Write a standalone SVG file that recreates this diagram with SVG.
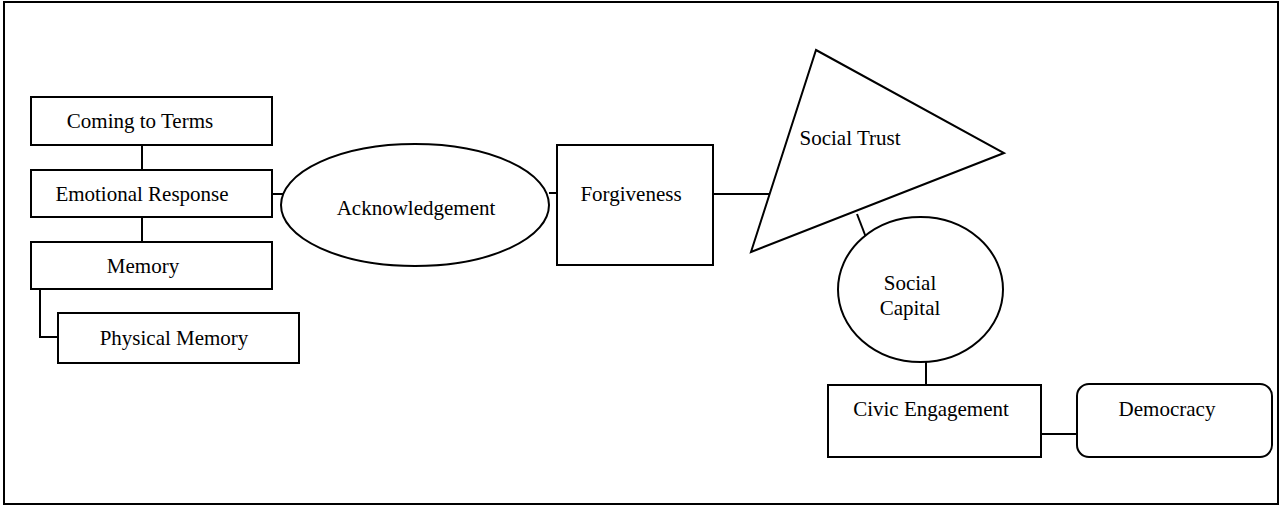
<svg xmlns="http://www.w3.org/2000/svg" width="1281" height="508" viewBox="0 0 1281 508">
<style>
.s{fill:#fff;stroke:#000;stroke-width:2}
.c{fill:none;stroke:#000;stroke-width:2}
text{font-family:"Liberation Serif","Times New Roman",serif;font-size:21px;fill:#000;text-anchor:middle}
</style>
<rect x="0" y="0" width="1281" height="508" fill="#fff"/>
<rect x="4" y="2" width="1274" height="502" class="c"/>
<g id="connectors">
<line x1="142" y1="145" x2="142" y2="170" class="c"/>
<line x1="142" y1="217" x2="142" y2="242" class="c"/>
<polyline points="40,289 40,337 58,337" class="c"/>
<line x1="272" y1="194" x2="284" y2="194" class="c"/>
<line x1="549" y1="193" x2="557" y2="193" class="c"/>
<line x1="713" y1="194" x2="769" y2="194" class="c"/>
<line x1="857" y1="214" x2="867" y2="240" class="c"/>
<line x1="926" y1="362" x2="926" y2="385" class="c"/>
<line x1="1041" y1="434" x2="1077" y2="434" class="c"/>
</g>
<g id="coming">
<rect x="31" y="97" width="241" height="48" class="s"/>
<text x="140" y="128">Coming to Terms</text>
</g>
<g id="emotional">
<rect x="31" y="170" width="241" height="47" class="s"/>
<text x="142" y="201">Emotional Response</text>
</g>
<g id="memory">
<rect x="31" y="242" width="241" height="47" class="s"/>
<text x="143" y="273">Memory</text>
</g>
<g id="physical">
<rect x="58" y="313" width="241" height="50" class="s"/>
<text x="174" y="345">Physical Memory</text>
</g>
<g id="acknowledgement">
<ellipse cx="415" cy="205" rx="134" ry="61" class="s"/>
<text x="416" y="215">Acknowledgement</text>
</g>
<g id="forgiveness">
<rect x="557" y="145" width="156" height="120" class="s"/>
<text x="631" y="201">Forgiveness</text>
</g>
<g id="trust">
<polygon points="816,50 1004,153 751,252" class="s"/>
<text x="850" y="145">Social Trust</text>
</g>
<g id="capital">
<ellipse cx="920.5" cy="289.5" rx="82.5" ry="72.5" class="s"/>
<text x="910" y="290">Social</text>
<text x="910" y="315">Capital</text>
</g>
<g id="civic">
<rect x="828" y="385" width="213" height="72" class="s"/>
<text x="931" y="416">Civic Engagement</text>
</g>
<g id="democracy">
<rect x="1077" y="384" width="195" height="73" rx="12" class="s"/>
<text x="1167" y="416">Democracy</text>
</g>
</svg>
